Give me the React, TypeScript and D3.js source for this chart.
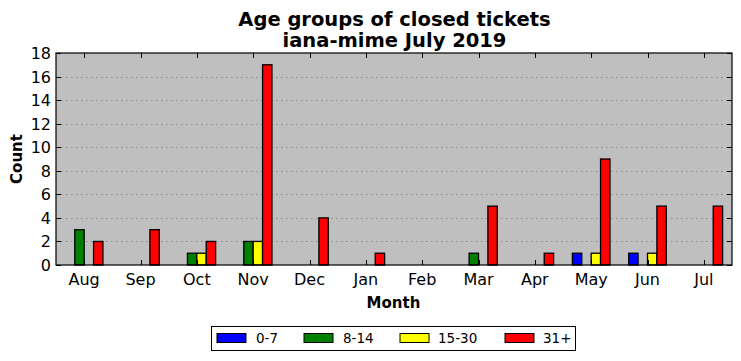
import React from "react";
import * as d3 from "d3";

const months = ["Aug", "Sep", "Oct", "Nov", "Dec", "Jan", "Feb", "Mar", "Apr", "May", "Jun", "Jul"];
const seriesNames = ["0-7", "8-14", "15-30", "31+"];
const seriesColors = ["#0000ff", "#008000", "#ffff00", "#ff0000"];
const s0to7 = [0, 0, 0, 0, 0, 0, 0, 0, 0, 1, 1, 0];
const s8to14 = [3, 0, 1, 2, 0, 0, 0, 1, 0, 0, 0, 0];
const s15to30 = [0, 0, 1, 2, 0, 0, 0, 0, 0, 1, 1, 0];
const s31plus = [2, 3, 2, 17, 4, 1, 0, 5, 1, 9, 5, 5];
const yTicks = [0, 2, 4, 6, 8, 10, 12, 14, 16, 18];

const W = 741, H = 361;
const left = 56, right = 732, top = 53, bottom = 265;
const font = "'DejaVu Sans', sans-serif";

export default function App() {
  const series = [s0to7, s8to14, s15to30, s31plus];
  const x = d3.scaleLinear().domain([-0.5, 11.5]).range([left, right]);
  const y = d3.scaleLinear().domain([0, 18]).range([bottom, top]);
  const bw = 1 / 6;
  const offsets = [-2 / 6, -1 / 6, 0, 1 / 6];

  const legendItems = [
    { sx: 217, tx: 256 },
    { sx: 304, tx: 343 },
    { sx: 400, tx: 438 },
    { sx: 505, tx: 543 },
  ];

  return (
    <svg width={W} height={H} style={{ position: "absolute", left: 0, top: 0 }}>
      <rect x={0} y={0} width={W} height={H} fill="#ffffff" />
      <rect x={left} y={top} width={right - left} height={bottom - top} fill="#bfbfbf" />
      {yTicks.filter(t => t > 0 && t < 18).map(t => (
        <line key={"g" + t} x1={left} x2={right} y1={Math.round(y(t)) + 0.5} y2={Math.round(y(t)) + 0.5}
          stroke="#8a8a8a" strokeWidth={1} strokeDasharray="1.5,3.5" />
      ))}
      {series.map((vals, si) =>
        vals.map((v, i) => {
          const x0 = x(i + offsets[si]);
          const x1 = x(i + offsets[si] + bw);
          const yt = y(v);
          return (
            <rect key={si + "-" + i} x={x0} y={yt} width={x1 - x0} height={bottom - yt}
              fill={seriesColors[si]} stroke="#000" strokeWidth={1.3} />
          );
        })
      )}
      {months.map((m, i) => (
        <g key={"xt" + i}>
          <line x1={Math.round(x(i)) + 0.5} x2={Math.round(x(i)) + 0.5} y1={bottom} y2={bottom - 5} stroke="#000" />
          <line x1={Math.round(x(i)) + 0.5} x2={Math.round(x(i)) + 0.5} y1={top} y2={top + 5} stroke="#000" />
          <text x={x(i)} y={bottom + 20} textAnchor="middle" fontFamily={font} fontSize={16}>{m}</text>
        </g>
      ))}
      {yTicks.map(t => (
        <g key={"yt" + t}>
          <line x1={left} x2={left + 5} y1={Math.round(y(t)) + 0.5} y2={Math.round(y(t)) + 0.5} stroke="#000" />
          <line x1={right} x2={right - 5} y1={Math.round(y(t)) + 0.5} y2={Math.round(y(t)) + 0.5} stroke="#000" />
          <text x={left - 5} y={y(t) + 6} textAnchor="end" fontFamily={font} fontSize={16}>{t}</text>
        </g>
      ))}
      <rect x={left} y={top} width={right - left} height={bottom - top} fill="none" stroke="#000" strokeWidth={1.2} />
      <text x={(left + right) / 2 + 0.5} y={26} textAnchor="middle" fontFamily={font} fontSize={19.5} fontWeight="bold">Age groups of closed tickets</text>
      <text x={(left + right) / 2 + 0.5} y={46.5} textAnchor="middle" fontFamily={font} fontSize={19.5} fontWeight="bold">iana-mime July 2019</text>
      <text x={(left + right) / 2 - 0.5} y={308} textAnchor="middle" fontFamily={font} fontSize={15} fontWeight="bold">Month</text>
      <text transform={`translate(22,${(top + bottom) / 2}) rotate(-90)`} textAnchor="middle" fontFamily={font} fontSize={15} fontWeight="bold">Count</text>
      <rect x={211.5} y={326.5} width={364} height={24} fill="#fff" stroke="#000" strokeWidth={1} />
      {seriesNames.map((n, i) => (
        <g key={"lg" + i}>
          <rect x={legendItems[i].sx} y={333.5} width={29} height={9} fill={seriesColors[i]} stroke="#000" strokeWidth={1} />
          <text x={legendItems[i].tx} y={343} fontFamily={font} fontSize={13.5}>{n}</text>
        </g>
      ))}
    </svg>
  );
}
